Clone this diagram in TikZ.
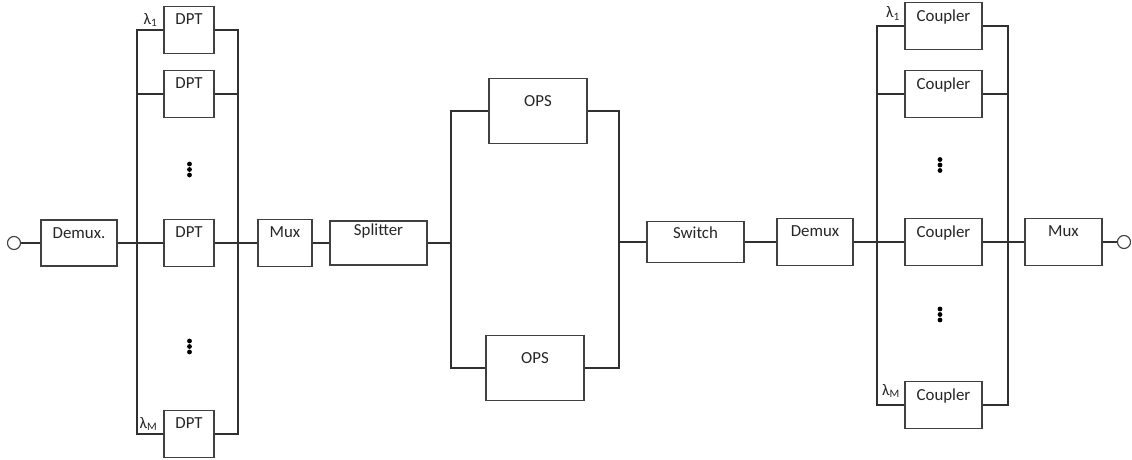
\documentclass[tikz,border=0pt]{standalone}
\usepackage{fontspec}
\setmainfont{Carlito}
\usepackage{xcolor}
\usetikzlibrary{positioning}
\definecolor{boxline}{HTML}{404040}
\definecolor{wire}{HTML}{303030}
\tikzset{
  blk/.style={draw=boxline,line width=0.8pt,inner sep=0pt},
  btxt/.style={anchor=north,inner sep=0pt,yshift=-5.5pt,font=\fontsize{12}{14}\selectfont,text=black!85},
  port/.style={circle,draw=boxline,line width=0.8pt,fill=white,minimum size=3.25mm,inner sep=0pt},
  wl/.style={line width=0.8pt,draw=wire},
  lam/.style={inner sep=1pt,font=\fontsize{11.5}{12}\selectfont,text=black!85}
}

\begin{document}
\begin{tikzpicture}[x=0.25mm,y=-0.25mm]
  \useasboundingbox (0,0) rectangle (1132,459);
  % input and wavelength stage
  \node[port] (pin) at (14,243) {};
  \node[blk,minimum width=19mm,minimum height=11.5mm,label={[btxt]north:Demux.}] (dmxa) at (79,243) {};
  \node[blk,minimum width=12.5mm,minimum height=11.75mm,label={[btxt]north:DPT}] (dpt1) at (189,30) {};
  \node[blk,minimum width=12.5mm,minimum height=11.75mm,label={[btxt]north:DPT}] (dpt2) at (189,94) {};
  \node[blk,minimum width=12.5mm,minimum height=11.75mm,label={[btxt]north:DPT}] (dpt3) at (189,243) {};
  \node[blk,minimum width=12.5mm,minimum height=11.75mm,label={[btxt]north:DPT}] (dpt4) at (189,434) {};
  \node[lam,anchor=south east] (la1) at ([xshift=-3pt,yshift=1pt]dpt1.west) {λ\textsubscript{1}};
  \node[lam,anchor=south east] (laM) at ([xshift=-3pt,yshift=1pt]dpt4.west) {λ\textsubscript{M}};
  \fill[black] (189.5,164) circle (0.6mm) (189.5,169.5) circle (0.6mm) (189.5,175) circle (0.6mm);
  \fill[black] (189.5,341) circle (0.6mm) (189.5,346.5) circle (0.6mm) (189.5,352) circle (0.6mm);
  \coordinate (ba) at (137,243);
  \coordinate (bb) at (238,243);
  \node[blk,minimum width=13.5mm,minimum height=11.75mm,label={[btxt]north:Mux}] (muxa) at (285,243) {};
  % packet stage
  \node[blk,minimum width=24.25mm,minimum height=11mm,label={[btxt,yshift=3pt]north:Splitter}] (spl) at (378.5,243) {};
  \node[blk,minimum width=24.5mm,minimum height=16.25mm,label={[btxt,yshift=-7pt]north:OPS}] (opsa) at (538,111) {};
  \node[blk,minimum width=24.5mm,minimum height=16.25mm,label={[btxt,yshift=-7pt]north:OPS}] (opsb) at (535,368) {};
  \coordinate (bc) at (451,243);
  \coordinate (bd) at (619,242);
  \node[blk,minimum width=24.25mm,minimum height=10.25mm,label={[btxt,yshift=1.5pt]north:Switch}] (sw) at (695.5,242) {};
  % output stage
  \node[blk,minimum width=19mm,minimum height=11.75mm,label={[btxt]north:Demux}] (dmxb) at (815,242) {};
  \node[blk,minimum width=19.25mm,minimum height=11.75mm,label={[btxt]north:Coupler}] (cpl1) at (943.5,26) {};
  \node[blk,minimum width=19.25mm,minimum height=11.75mm,label={[btxt]north:Coupler}] (cpl2) at (943.5,94) {};
  \node[blk,minimum width=19.25mm,minimum height=11.75mm,label={[btxt]north:Coupler}] (cpl3) at (943.5,242) {};
  \node[blk,minimum width=19.25mm,minimum height=11.75mm,label={[btxt]north:Coupler}] (cpl4) at (943.5,405) {};
  \node[lam,anchor=south east] (lb1) at ([xshift=-2pt,yshift=3pt]cpl1.west) {λ\textsubscript{1}};
  \node[lam,anchor=south east] (lbM) at ([xshift=-2pt,yshift=4pt]cpl4.west) {λ\textsubscript{M}};
  \fill[black] (940,159.5) circle (0.6mm) (940,165) circle (0.6mm) (940,170.5) circle (0.6mm);
  \fill[black] (940,309) circle (0.6mm) (940,314.5) circle (0.6mm) (940,320) circle (0.6mm);
  \coordinate (be) at (877,242);
  \coordinate (bf) at (1008,242);
  \node[blk,minimum width=19.25mm,minimum height=11.75mm,label={[btxt]north:Mux}] (muxb) at (1063.5,242) {};
  \node[port] (pout) at (1124,242) {};
  % wiring
  \draw[wl] (pin) -- (dmxa);
  \draw[wl] (dmxa) -- (dpt3);
  \draw[wl] (dpt1.west) -| (ba) |- (dpt4.west);
  \draw[wl] (dpt2.west) -- (dpt2.west -| ba);
  \draw[wl] (dpt1.east) -| (bb) |- (dpt4.east);
  \draw[wl] (dpt2.east) -- (dpt2.east -| bb);
  \draw[wl] (dpt3) -- (muxa);
  \draw[wl] (muxa) -- (spl);
  \draw[wl] (spl) -- (bc);
  \draw[wl] (opsa.west) -| (bc) |- (opsb.west);
  \draw[wl] (opsa.east) -| (bd) |- (opsb.east);
  \draw[wl] (bd) -- (sw);
  \draw[wl] (sw) -- (dmxb);
  \draw[wl] (dmxb) -- (cpl3);
  \draw[wl] (cpl1.west) -| (be) |- (cpl4.west);
  \draw[wl] (cpl2.west) -- (cpl2.west -| be);
  \draw[wl] (cpl1.east) -| (bf) |- (cpl4.east);
  \draw[wl] (cpl2.east) -- (cpl2.east -| bf);
  \draw[wl] (cpl3) -- (muxb);
  \draw[wl] (muxb) -- (pout);
\end{tikzpicture}
\end{document}
